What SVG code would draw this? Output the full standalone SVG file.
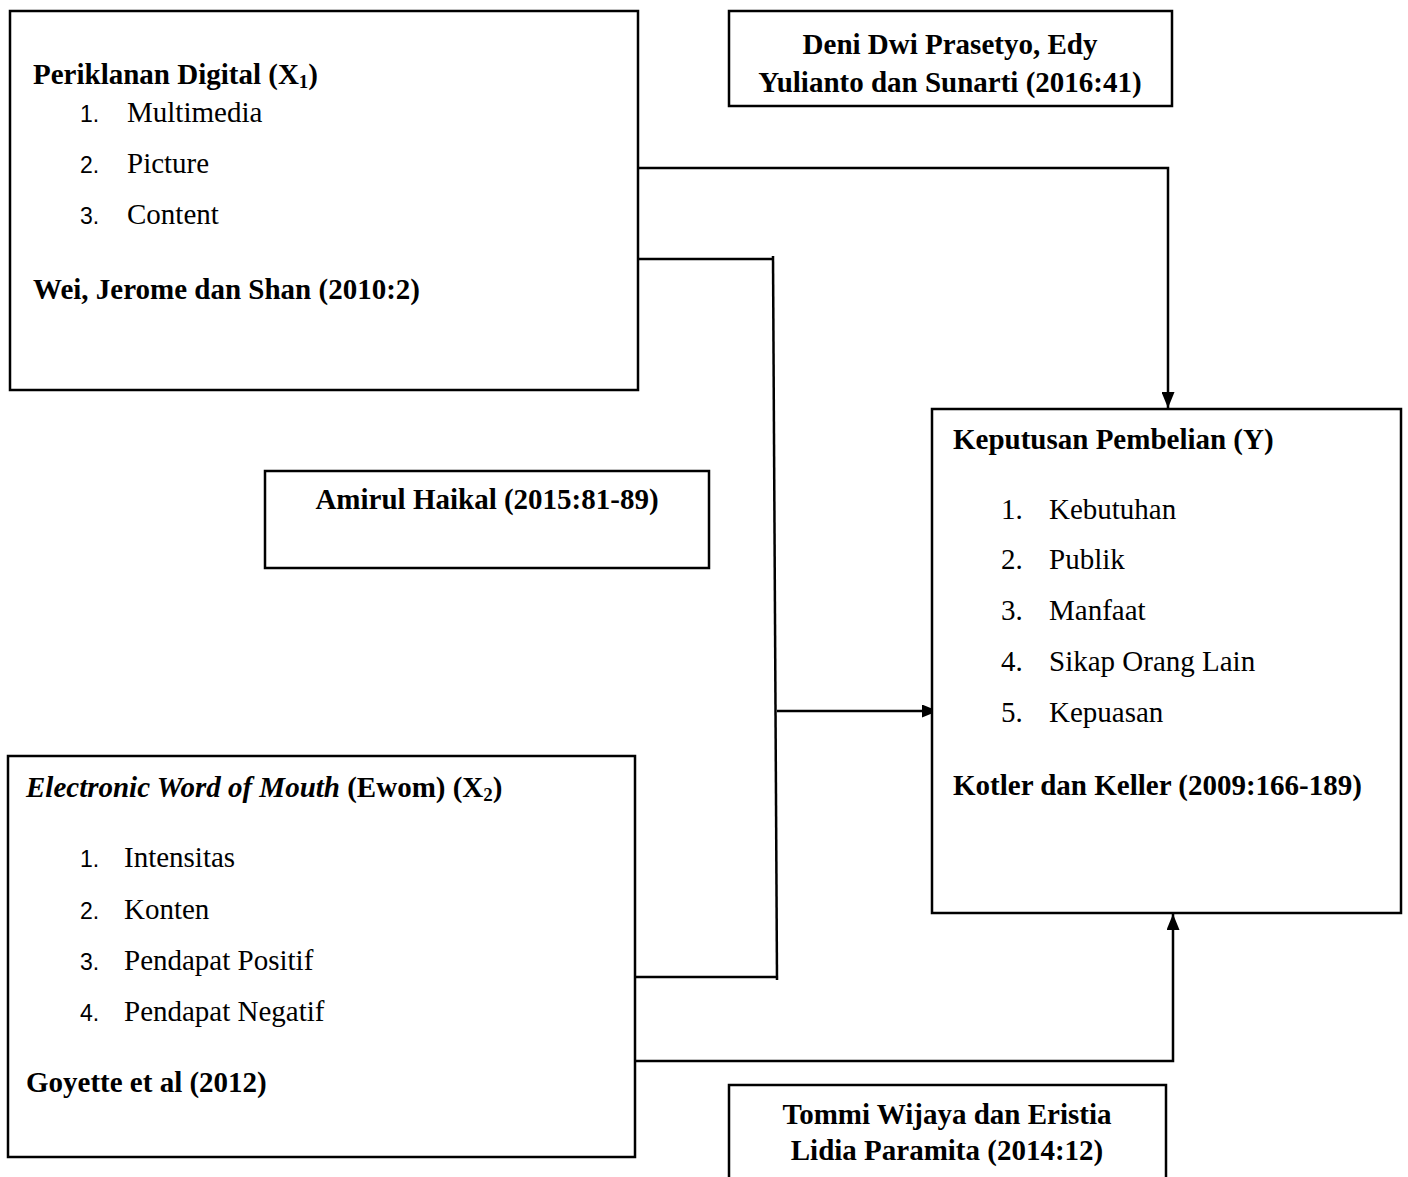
<svg xmlns="http://www.w3.org/2000/svg" width="1408" height="1177" viewBox="0 0 1408 1177">
<style>
  .box{fill:#fff;stroke:#000;stroke-width:2.5}
  .t{font-family:"Liberation Serif","Times New Roman",serif;font-size:29px;fill:#000}
  .b{font-weight:bold}
  .n{font-family:"Liberation Sans",Arial,sans-serif;font-size:23px;fill:#000}
  .c{stroke:#000;stroke-width:2.5;fill:none}
</style>
<defs>
  <marker id="arr" viewBox="0 0 16 13" refX="16" refY="6.5" markerWidth="16" markerHeight="13" markerUnits="userSpaceOnUse" orient="auto">
    <path d="M0,0 L16,6.5 L0,13 Z" fill="#000"/>
  </marker>
</defs>
<rect width="1408" height="1177" fill="#fff"/>

<g id="connectors">
  <path class="c" d="M635,168 H1168 V408" marker-end="url(#arr)"/>
  <path class="c" d="M635,259 H773"/>
  <line class="c" x1="773" y1="256" x2="777" y2="980"/>
  <path class="c" d="M777,711 H938" marker-end="url(#arr)"/>
  <path class="c" d="M635,977 H777"/>
  <path class="c" d="M635,1061 H1173 V914" marker-end="url(#arr)"/>
</g>

<g id="x1">
  <rect class="box" x="10" y="11" width="628" height="379"/>
  <text class="t b" x="33" y="84">Periklanan Digital (X<tspan font-size="19" dy="4">1</tspan><tspan dy="-4">)</tspan></text>
  <text class="n" x="80" y="122">1.</text><text class="t" x="127" y="122">Multimedia</text>
  <text class="n" x="80" y="173">2.</text><text class="t" x="127" y="173">Picture</text>
  <text class="n" x="80" y="224">3.</text><text class="t" x="127" y="224">Content</text>
  <text class="t b" x="33" y="299">Wei, Jerome dan Shan (2010:2)</text>
</g>

<g id="ref-deni">
  <rect class="box" x="729" y="11" width="443" height="95"/>
  <text class="t b" x="950" y="54" text-anchor="middle">Deni Dwi Prasetyo, Edy</text>
  <text class="t b" x="950" y="92" text-anchor="middle">Yulianto dan Sunarti (2016:41)</text>
</g>

<g id="ref-amirul">
  <rect class="box" x="265" y="471" width="444" height="97"/>
  <text class="t b" x="487" y="509" text-anchor="middle">Amirul Haikal (2015:81-89)</text>
</g>

<g id="y">
  <rect class="box" x="932" y="409" width="469" height="504"/>
  <text class="t b" x="953" y="449">Keputusan Pembelian (Y)</text>
  <text class="t" x="1001" y="519">1.</text><text class="t" x="1049" y="519">Kebutuhan</text>
  <text class="t" x="1001" y="569">2.</text><text class="t" x="1049" y="569">Publik</text>
  <text class="t" x="1001" y="620">3.</text><text class="t" x="1049" y="620">Manfaat</text>
  <text class="t" x="1001" y="671">4.</text><text class="t" x="1049" y="671">Sikap Orang Lain</text>
  <text class="t" x="1001" y="722">5.</text><text class="t" x="1049" y="722">Kepuasan</text>
  <text class="t b" x="953" y="795">Kotler dan Keller (2009:166-189)</text>
</g>

<g id="x2">
  <rect class="box" x="8" y="756" width="627" height="401"/>
  <text class="t" x="26" y="797"><tspan font-style="italic" font-weight="bold">Electronic Word of Mouth</tspan> <tspan font-weight="bold">(Ewom) (X<tspan font-size="19" dy="4">2</tspan><tspan dy="-4">)</tspan></tspan></text>
  <text class="n" x="80" y="867">1.</text><text class="t" x="124" y="867">Intensitas</text>
  <text class="n" x="80" y="919">2.</text><text class="t" x="124" y="919">Konten</text>
  <text class="n" x="80" y="970">3.</text><text class="t" x="124" y="970">Pendapat Positif</text>
  <text class="n" x="80" y="1021">4.</text><text class="t" x="124" y="1021">Pendapat Negatif</text>
  <text class="t b" x="26" y="1092">Goyette et al (2012)</text>
</g>

<g id="ref-tommi">
  <rect class="box" x="729" y="1085" width="437" height="110"/>
  <text class="t b" x="947" y="1124" text-anchor="middle">Tommi Wijaya dan Eristia</text>
  <text class="t b" x="947" y="1160" text-anchor="middle">Lidia Paramita (2014:12)</text>
</g>
</svg>
